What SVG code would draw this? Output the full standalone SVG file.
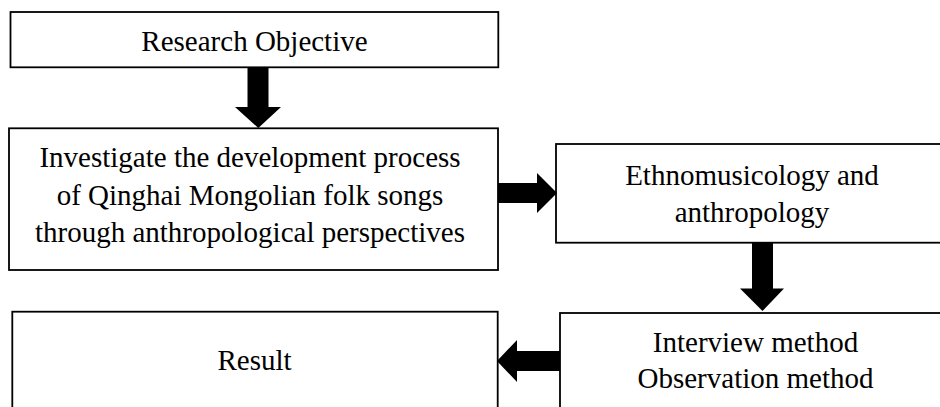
<svg xmlns="http://www.w3.org/2000/svg" width="940" height="407" viewBox="0 0 940 407">
<style>
.box{fill:#fff;stroke:#000;stroke-width:1.8}
.t{font-family:"Liberation Serif","Times New Roman",serif;font-size:29px;fill:#000;text-anchor:middle}
.arr{fill:#000;stroke:none}
</style>
<rect x="0" y="0" width="940" height="407" fill="#fff"/>
<g id="research-objective">
<rect class="box" x="10.5" y="12" width="487.8" height="55.3"/>
<text class="t" x="254.5" y="51">Research Objective</text>
</g>
<g id="investigate">
<rect class="box" x="9" y="128.3" width="489" height="141.7"/>
<text class="t" x="250" y="167.3">Investigate the development process</text>
<text class="t" x="250" y="205">of Qinghai Mongolian folk songs</text>
<text class="t" x="250" y="242">through anthropological perspectives</text>
</g>
<g id="ethnomusicology">
<rect class="box" x="556" y="144" width="400" height="98.7"/>
<text class="t" x="752" y="184.5">Ethnomusicology and</text>
<text class="t" x="752" y="222">anthropology</text>
</g>
<g id="methods">
<rect class="box" x="560" y="313" width="400" height="110"/>
<text class="t" x="755.5" y="351.7">Interview method</text>
<text class="t" x="755.5" y="388">Observation method</text>
</g>
<g id="result">
<rect class="box" x="12.3" y="311.7" width="485.4" height="110"/>
<text class="t" x="254.5" y="370">Result</text>
</g>
<g id="connectors">
<polygon class="arr" points="247.5,67.3 268.5,67.3 268.5,107 281,107 258.3,128 235,107 247.5,107"/>
<polygon class="arr" points="498,183 537,183 537,173 557,193 537,213 537,203 498,203"/>
<polygon class="arr" points="752,242.7 773,242.7 773,288.5 784,288.5 762.5,311 740,288.5 752,288.5"/>
<polygon class="arr" points="560,351 517,351 517,340 497,361 517,382 517,371 560,371"/>
</g>
</svg>
